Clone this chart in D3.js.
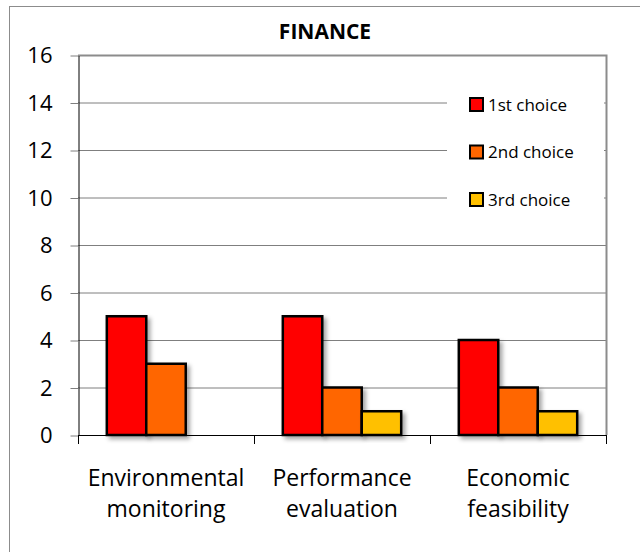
<!DOCTYPE html>
<html>
<head>
<meta charset="utf-8">
<script src="https://cdn.jsdelivr.net/npm/d3@7"></script>
<style>
  body { margin: 0; background: #fff; }
  text { font-family: "Open Sans", sans-serif; }
</style>
</head>
<body>
<script>
var w = 640;
var h = 552;
var svg;

// ---- data ----
var categories = ["Environmental monitoring", "Performance evaluation", "Economic feasibility"];
var seriesNames = ["1st choice", "2nd choice", "3rd choice"];
var firstChoice = [5, 5, 4];
var secondChoice = [3, 2, 2];
var thirdChoice = [0, 1, 1];
var yTicks = [0, 2, 4, 6, 8, 10, 12, 14, 16];

var seriesValues = [firstChoice, secondChoice, thirdChoice];
var colors = ["#ff0000", "#ff6600", "#ffc000"];

var plotLeft = 78, plotRight = 606, plotTop = 55, plotBottom = 435;

drawChart();
function drawChart(){
    svg = d3.select("body")
        .append("svg")
        .attr("width", w)
        .attr("height", h);

    var defs = svg.append("defs");
    var f = defs.append("filter")
        .attr("id", "shadow")
        .attr("x", "-20%").attr("y", "-20%")
        .attr("width", "150%").attr("height", "150%");
    f.append("feDropShadow")
        .attr("dx", 3).attr("dy", 3)
        .attr("stdDeviation", 2)
        .attr("flood-color", "#000")
        .attr("flood-opacity", 0.35);

    // outer frame
    svg.append("rect")
        .attr("x", 9.5).attr("y", 6.5)
        .attr("width", 700).attr("height", 600)
        .attr("fill", "#fff")
        .attr("stroke", "#8c8c8c")
        .attr("stroke-width", 1);

    var x = d3.scaleBand()
        .domain(categories)
        .range([plotLeft, plotRight])
        .padding(0);

    var x1 = d3.scaleBand()
        .domain(seriesNames)
        .range([0, x.bandwidth()])
        .paddingInner(0)
        .paddingOuter(0.73);

    var y = d3.scaleLinear()
        .domain([0, 16])
        .range([plotBottom, plotTop]);

    // gridlines
    svg.append("g").selectAll("line")
        .data(yTicks)
        .join("line")
        .attr("x1", plotLeft).attr("x2", plotRight)
        .attr("y1", function(d){ return y(d) + 0.5; })
        .attr("y2", function(d){ return y(d) + 0.5; })
        .attr("stroke", "#7f7f7f")
        .attr("stroke-width", 1);

    // plot border right/top
    svg.append("path")
        .attr("d", "M" + plotLeft + "," + (plotTop + 0.5) + "H" + (plotRight + 0.5) + "V" + plotBottom)
        .attr("fill", "none")
        .attr("stroke", "#8c8c8c")
        .attr("stroke-width", 2);

    // legend background
    svg.append("rect")
        .attr("x", 447).attr("y", 80)
        .attr("width", 157).attr("height", 145)
        .attr("fill", "#fff");

    // y axis
    var yAxis = d3.axisLeft(y)
        .tickValues(yTicks)
        .tickSize(8)
        .tickSizeOuter(0)
        .tickPadding(18);
    var gy = svg.append("g")
        .attr("transform", "translate(" + (plotLeft + 0.5) + ",0.5)")
        .call(yAxis);
    gy.select(".domain").attr("stroke", "#000");
    gy.selectAll(".tick line").attr("stroke", "#7f7f7f");
    gy.selectAll(".tick text")
        .attr("font-size", 22)
        .attr("font-family", "Open Sans")
        .attr("fill", "#000");

    // bars
    seriesValues.forEach(function(vals, si){
        svg.append("g")
            .selectAll("rect")
            .data(categories.map(function(c, i){ return {cat: c, v: vals[i]}; })
                .filter(function(d){ return d.v > 0; }))
            .join("rect")
            .attr("x", function(d){ return x(d.cat) + x1(seriesNames[si]); })
            .attr("y", function(d){ return y(d.v); })
            .attr("width", x1.bandwidth())
            .attr("height", function(d){ return y(0) - y(d.v); })
            .attr("fill", colors[si])
            .attr("stroke", "#000")
            .attr("stroke-width", 2.5)
            .attr("filter", "url(#shadow)");
    });

    // x axis
    svg.append("line")
        .attr("x1", plotLeft).attr("x2", plotRight)
        .attr("y1", plotBottom + 0.5).attr("y2", plotBottom + 0.5)
        .attr("stroke", "#000");
    var bounds = categories.map(function(c){ return x(c); }).concat([plotRight]);
    svg.append("g").selectAll("line")
        .data(bounds)
        .join("line")
        .attr("x1", function(d){ return d + 0.5; })
        .attr("x2", function(d){ return d + 0.5; })
        .attr("y1", plotBottom).attr("y2", plotBottom + 9)
        .attr("stroke", "#000");

    // category labels
    var lab = svg.append("g").selectAll("text")
        .data(categories)
        .join("text")
        .attr("x", function(d){ return x(d) + x.bandwidth() / 2; })
        .attr("y", 486)
        .attr("text-anchor", "middle")
        .attr("font-size", 23)
        .attr("fill", "#000");
    lab.each(function(d){
        var parts = d.split(" ");
        var t = d3.select(this);
        var cx = x(d) + x.bandwidth() / 2;
        parts.forEach(function(p, i){
            t.append("tspan")
                .attr("x", cx)
                .attr("dy", i === 0 ? 0 : 31)
                .text(p);
        });
    });

    // title
    svg.append("text")
        .text("FINANCE")
        .attr("x", 325)
        .attr("y", 39)
        .attr("text-anchor", "middle")
        .attr("font-size", 21)
        .attr("font-weight", "bold")
        .attr("fill", "#000");

    // legend
    var leg = svg.append("g").selectAll("g")
        .data(seriesNames)
        .join("g")
        .attr("transform", function(d, i){ return "translate(469," + (104.5 + i * 47.5) + ")"; });
    leg.append("rect")
        .attr("x", 1).attr("y", -6.5)
        .attr("width", 13).attr("height", 13)
        .attr("fill", function(d, i){ return colors[i]; })
        .attr("stroke", "#000")
        .attr("stroke-width", 2);
    leg.append("text")
        .text(function(d){ return d; })
        .attr("x", 19)
        .attr("y", 6)
        .attr("font-size", 17)
        .attr("fill", "#000");
}
</script>
</body>
</html>
